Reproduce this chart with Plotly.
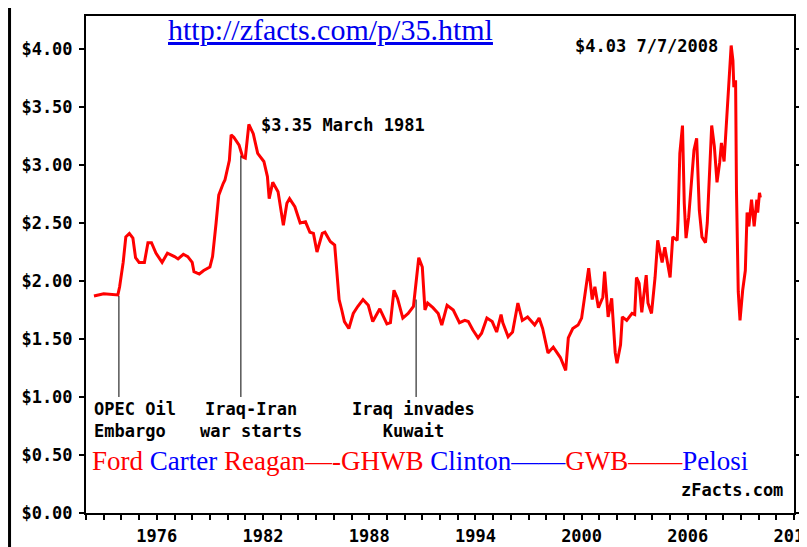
import plotly.graph_objects as go

# Data (inflation-adjusted gasoline price, $/gal)
years = [1972.45, 1973.0, 1973.8, 1973.9, 1974.1, 1974.25, 1974.45, 1974.65, 1974.8, 1975.0,
         1975.3, 1975.5, 1975.7, 1975.95, 1976.3, 1976.6, 1977.0, 1977.2, 1977.5, 1977.75,
         1978.0, 1978.1, 1978.4, 1978.65, 1979.0, 1979.15, 1979.35, 1979.5, 1979.75, 1979.85,
         1980.1, 1980.2, 1980.35, 1980.65, 1980.85, 1981.0, 1981.2, 1981.45, 1981.7, 1982.05,
         1982.25, 1982.35, 1982.55, 1982.85, 1983.15, 1983.35, 1983.5, 1983.8, 1984.1, 1984.4,
         1984.65, 1984.85, 1985.05, 1985.35, 1985.5, 1985.8, 1986.05, 1986.2, 1986.3, 1986.45,
         1986.6, 1986.85, 1987.1, 1987.35, 1987.65, 1987.95, 1988.2, 1988.45, 1988.6, 1989.0,
         1989.2, 1989.4, 1989.6, 1989.9, 1990.2, 1990.5, 1990.65, 1990.8, 1991.0, 1991.15,
         1991.3, 1991.6, 1991.9, 1992.1, 1992.4, 1992.75, 1993.1, 1993.4, 1993.6, 1993.85,
         1994.15, 1994.35, 1994.65, 1994.95, 1995.2, 1995.45, 1995.55, 1995.85, 1996.1, 1996.4,
         1996.65, 1996.95, 1997.35, 1997.6, 1997.8, 1998.1, 1998.4, 1998.8, 1999.1, 1999.25,
         1999.5, 1999.8, 2000.0, 2000.2, 2000.4, 2000.6, 2000.75, 2000.95, 2001.2, 2001.3,
         2001.5, 2001.7, 2001.9, 2002.0, 2002.2, 2002.3, 2002.55, 2002.85, 2003.0, 2003.1,
         2003.25, 2003.4, 2003.65, 2003.75, 2003.95, 2004.15, 2004.3, 2004.55, 2004.7, 2005.0,
         2005.15, 2005.4, 2005.45, 2005.55, 2005.7, 2005.8, 2005.9, 2006.05, 2006.25, 2006.35,
         2006.5, 2006.65, 2006.8, 2007.0, 2007.1, 2007.2, 2007.35, 2007.5, 2007.65, 2007.8,
         2007.9, 2008.05, 2008.15, 2008.25, 2008.35, 2008.45, 2008.55, 2008.6, 2008.7, 2008.75,
         2008.85, 2008.95, 2009.1, 2009.25, 2009.35, 2009.45, 2009.6, 2009.75, 2009.9, 2009.95,
         2010.05, 2010.1]
prices = [1.87, 1.89, 1.88, 1.95, 2.16, 2.38, 2.41, 2.37, 2.20, 2.16,
          2.16, 2.33, 2.33, 2.24, 2.16, 2.24, 2.21, 2.19, 2.23, 2.21,
          2.16, 2.08, 2.06, 2.09, 2.12, 2.21, 2.50, 2.74, 2.84, 2.87,
          3.04, 3.26, 3.24, 3.17, 3.07, 3.06, 3.35, 3.27, 3.10, 3.03,
          2.90, 2.71, 2.85, 2.77, 2.48, 2.67, 2.71, 2.64, 2.50, 2.51,
          2.42, 2.41, 2.25, 2.41, 2.42, 2.34, 2.31, 2.03, 1.84, 1.75,
          1.65, 1.59, 1.72, 1.78, 1.84, 1.79, 1.65, 1.72, 1.76, 1.63,
          1.64, 1.92, 1.85, 1.68, 1.72, 1.78, 1.99, 2.20, 2.12, 1.75,
          1.81, 1.77, 1.72, 1.62, 1.79, 1.75, 1.64, 1.66, 1.65, 1.58,
          1.51, 1.55, 1.68, 1.65, 1.56, 1.71, 1.64, 1.52, 1.56, 1.81,
          1.66, 1.69, 1.62, 1.68, 1.59, 1.38, 1.43, 1.34, 1.23, 1.51,
          1.59, 1.62, 1.68, 1.92, 2.11, 1.84, 1.95, 1.77, 1.86, 2.08,
          1.69, 1.85, 1.38, 1.29, 1.45, 1.69, 1.66, 1.72, 1.71, 2.03,
          1.98, 1.73, 2.05, 1.81, 1.72, 2.03, 2.35, 2.16, 2.29, 2.03,
          2.38, 2.35, 2.53, 3.10, 3.34, 2.67, 2.37, 2.55, 2.93, 3.13,
          3.23, 2.61, 2.38, 2.33, 2.50, 2.81, 3.34, 3.16, 2.85, 3.02,
          3.19, 3.03, 3.30, 3.47, 3.75, 4.03, 3.90, 3.67, 3.73, 2.78,
          1.91, 1.66, 1.92, 2.09, 2.59, 2.47, 2.70, 2.47, 2.70, 2.59,
          2.76, 2.72]

y_ticks = [0, 0.5, 1.0, 1.5, 2.0, 2.5, 3.0, 3.5, 4.0]
y_tick_labels = ["$0.00", "$0.50", "$1.00", "$1.50", "$2.00", "$2.50", "$3.00", "$3.50", "$4.00"]
x_ticks = list(range(1972, 2013))
x_labeled = [1976, 1982, 1988, 1994, 2000, 2006, 2012]

event_years = [1973.86, 1980.75, 1990.65]
event_tops = [1.87, 3.08, 1.84]
event_bottom = 1.0

MONO = "DejaVu Sans Mono"
SERIF = "Liberation Serif"

fig = go.Figure()
fig.add_trace(go.Scatter(x=years, y=prices, mode="lines",
                         line=dict(color="#ff0000", width=3), showlegend=False))

for ex, et in zip(event_years, event_tops):
    fig.add_shape(type="line", xref="x", yref="y", x0=ex, x1=ex, y0=event_bottom, y1=et,
                  line=dict(color="black", width=1))

# left edge border of the image
fig.add_shape(type="line", xref="paper", yref="paper", x0=-0.108, x1=-0.108, y0=-0.09, y1=1.02,
              line=dict(color="black", width=3))

mono_font = dict(family=MONO, size=17, color="black", weight="bold")

annos = [
    dict(x=1972.34, y=0.80, text="OPEC Oil<br>Embargo", xanchor="left", align="left"),
    dict(x=1981.32, y=0.80, text="Iraq-Iran<br>war starts", xanchor="center", align="center"),
    dict(x=1990.53, y=0.80, text="Iraq invades<br>Kuwait", xanchor="center", align="center"),
    dict(x=1981.77, y=3.345, text="$3.35 March 1981", xanchor="left"),
    dict(x=2007.82, y=4.026, text="$4.03 7/7/2008", xanchor="right"),
    dict(x=2011.49, y=0.198, text="zFacts.com", xanchor="right"),
]
for a in annos:
    fig.add_annotation(showarrow=False, yanchor="middle", font=mono_font, **a)

fig.add_annotation(x=1976.52, y=4.17, xanchor="left", yanchor="middle", showarrow=False,
                   text="<u>http://zfacts.com/p/35.html</u>",
                   font=dict(family=SERIF, size=30, color="#0000ee"))

R = "#ff0000"
B = "#0000ff"
pres_text = (f"<span style='color:{R}'>Ford </span>"
             f"<span style='color:{B}'>Carter </span>"
             f"<span style='color:{R}'>Reagan—-GHWB </span>"
             f"<span style='color:{B}'>Clinton——</span>"
             f"<span style='color:{R}'>GWB——</span>"
             f"<span style='color:{B}'>Pelosi</span>")
fig.add_annotation(x=1972.23, y=0.448, xanchor="left", yanchor="middle", showarrow=False,
                   text=pres_text, font=dict(family=SERIF, size=27, color=R))

# the page body adds an 8px offset, so margins are set in figure coordinates
fig.update_layout(
    width=807, height=547,
    margin=dict(l=78, r=21, t=8, b=42),
    paper_bgcolor="white", plot_bgcolor="white",
    xaxis=dict(range=[1972, 2012], tickmode="array", tickvals=x_ticks,
               ticktext=[str(v) if v in x_labeled else "" for v in x_ticks],
               ticks="outside", ticklen=5, tickwidth=2, tickcolor="black",
               showline=True, linecolor="black", linewidth=2, mirror=True,
               showgrid=False, zeroline=False, automargin=False,
               ticklabeloverflow="allow", ticklabelstandoff=2,
               tickfont=mono_font),
    yaxis=dict(range=[0, 4.284], tickmode="array", tickvals=y_ticks, ticktext=y_tick_labels,
               ticks="outside", ticklen=5, tickwidth=2, tickcolor="black",
               showline=True, linecolor="black", linewidth=2, mirror="ticks",
               showgrid=False, zeroline=False, automargin=False,
               ticklabelstandoff=3,
               tickfont=mono_font),
)

fig.write_html("out.html")
